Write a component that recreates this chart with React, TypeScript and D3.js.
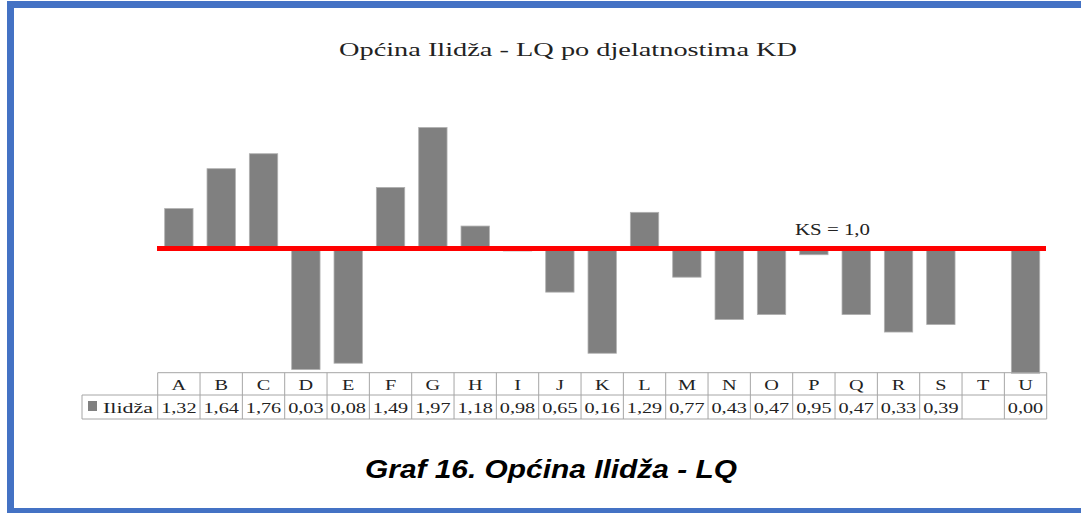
import React from "react";
import * as d3 from "d3";

const categories = ["A","B","C","D","E","F","G","H","I","J","K","L","M","N","O","P","Q","R","S","T","U"];
const values: (number | null)[] = [1.32,1.64,1.76,0.03,0.08,1.49,1.97,1.18,0.98,0.65,0.16,1.29,0.77,0.43,0.47,0.95,0.47,0.33,0.39,null,0.00];
const seriesName = "Ilidža";
const baselineValue = 1.0;
const title = "Općina Ilidža - LQ po djelatnostima KD";
const caption = "Graf 16. Općina Ilidža - LQ";
const baselineLabel = "KS = 1,0";

const fmt = (v: number) => v.toFixed(2).replace(".", ",");

export default function App() {
  const W = 1081, H = 513;
  const x = d3.scaleBand<string>().domain(categories).range([157.7, 1046.7]).paddingInner(0.33).paddingOuter(0.165);
  const y = d3.scaleLinear().domain([0, 2]).range([373.2, 123.8]);
  const step = x.step();
  const tableLeft = 157.7, tableRight = 1046.7;
  const row1Top = 372.7, row2Top = 395, row2Bottom = 419;
  const legendLeft = 82;
  const serif = "'Liberation Serif', 'Times New Roman', serif";
  const gridColor = "#a6a6a6";

  return (
    <svg width={W} height={H} style={{ position: "absolute", left: 0, top: 0, background: "#fff" }}>
      <rect x={10.5} y={4.5} width={1200} height={507} fill="none" stroke="#4472C4" strokeWidth={7} />
      <text x={339} y={56} fontFamily={serif} fontSize={19} textLength={458} lengthAdjust="spacingAndGlyphs" fill="#222">{title}</text>

      {categories.map((c, i) => {
        const v = values[i];
        if (v === null) return null;
        const y0 = y(baselineValue), y1 = y(v);
        return (
          <rect key={c} x={x(c)} y={Math.min(y0, y1)} width={x.bandwidth()} height={Math.abs(y1 - y0)}
            fill="#808080" stroke="#b0b0b0" strokeWidth={0.8} />
        );
      })}

      <line x1={157} x2={1046} y1={y(baselineValue)} y2={y(baselineValue)} stroke="#ff0000" strokeWidth={5} />
      <text x={795} y={235} fontFamily={serif} fontSize={16} textLength={75} lengthAdjust="spacingAndGlyphs" fill="#222">{baselineLabel}</text>

      {/* table */}
      <g stroke={gridColor} strokeWidth={1} fill="none">
        <line x1={tableLeft} x2={tableRight} y1={row1Top} y2={row1Top} />
        <line x1={legendLeft} x2={tableRight} y1={row2Top} y2={row2Top} />
        <line x1={legendLeft} x2={tableRight} y1={row2Bottom} y2={row2Bottom} />
        <line x1={legendLeft} x2={legendLeft} y1={row2Top} y2={row2Bottom} />
        {d3.range(categories.length + 1).map(k => (
          <line key={k} x1={tableLeft + k * step} x2={tableLeft + k * step} y1={row1Top} y2={row2Bottom} />
        ))}
      </g>
      {categories.map((c, i) => {
        const cx = (x(c) as number) + x.bandwidth() / 2;
        const v = values[i];
        return (
          <g key={c}>
            <text transform={`translate(${cx},390) scale(1.35,1)`} textAnchor="middle" fontFamily={serif} fontSize={15} fill="#222">{c}</text>
            {v !== null && (
              <text transform={`translate(${cx},413) scale(1.35,1)`} textAnchor="middle" fontFamily={serif} fontSize={15} fill="#222">{fmt(v)}</text>
            )}
          </g>
        );
      })}
      <rect x={88} y={401} width={9} height={10} fill="#808080" />
      <text x={103} y={413} fontFamily={serif} fontSize={15} textLength={50} lengthAdjust="spacingAndGlyphs" fill="#222">{seriesName}</text>

      <text x={365} y={478} fontFamily="'Liberation Sans', Arial, sans-serif" fontWeight="bold" fontStyle="italic" fontSize={26} textLength={372} lengthAdjust="spacingAndGlyphs" fill="#000">{caption}</text>
    </svg>
  );
}
